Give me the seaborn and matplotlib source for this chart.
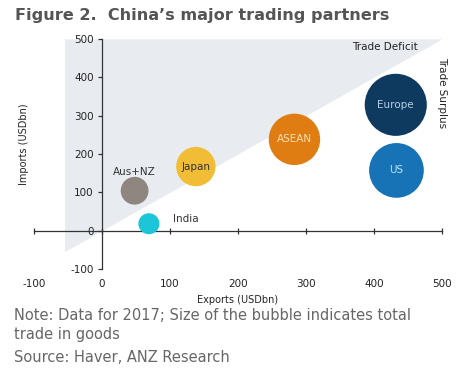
import matplotlib.pyplot as plt
import seaborn as sns
import pandas as pd

# China's major trading partners, 2017 (USDbn)
partners = ["Europe", "US", "ASEAN", "Japan", "Aus+NZ", "India"]
exports = [432, 433, 283, 138, 48, 69]
imports = [328, 157, 238, 167, 104, 18]
total_trade = [760, 590, 521, 305, 152, 87]

colors = ["#0f3a5f", "#1873b6", "#e07d12", "#f1bd36", "#8f8680", "#1cc5d7"]
label_colors = ["#b5d0e6", "#b9e6f2", "#f7e0b5", "#333333"]

# trade-deficit zone: above the imports = exports line
deficit_x = [-55, 500]
ticks = list(range(-100, 501, 100))

df = pd.DataFrame({"partner": partners, "exports": exports,
                   "imports": imports, "total": total_trade})

sns.set_theme(style="white")
plt.rcParams["font.family"] = ["DejaVu Sans"]
plt.rcParams["axes.unicode_minus"] = False

fig = plt.figure(figsize=(4.59, 3.70), dpi=100)
ax = fig.add_axes([0.074, 0.273, 0.889, 0.622])

ax.fill_between(deficit_x, deficit_x, 500, color="#e8ecf0", lw=0, zorder=0)

sns.scatterplot(data=df, x="exports", y="imports", hue="partner", palette=colors,
                size="total", sizes=(0, 2000), size_norm=(0, max(total_trade)),
                alpha=1, edgecolor="none", legend=False, ax=ax, zorder=3)

# labels inside the big bubbles
for name, ex, im, c in zip(partners[:4], exports[:4], imports[:4], label_colors):
    ax.text(ex, im, name, ha="center", va="center", fontsize=7.5, color=c, zorder=4)
ax.text(48, 154, "Aus+NZ", ha="center", va="center", fontsize=7.5, color="#333333")
ax.text(104, 30, "India", ha="left", va="center", fontsize=7.5, color="#333333")

ax.text(416, 480, "Trade Deficit", ha="center", va="center", fontsize=7.5, color="#222222")
ax.text(500, 360, "Trade Surplus", ha="center", va="center", fontsize=7.5, color="#222222",
        rotation=-90, clip_on=False)

ax.set_xlim(-100, 500)
ax.set_ylim(-100, 500)
ax.set_xticks(ticks)
ax.set_yticks(ticks)
for side in ["top", "right"]:
    ax.spines[side].set_visible(False)
for side in ["left", "bottom"]:
    ax.spines[side].set_position(("data", 0))
    ax.spines[side].set_color("#333333")
    ax.spines[side].set_linewidth(0.9)
ax.tick_params(axis="x", direction="inout", length=4, width=0.9, color="#333333",
               labelsize=7.5, labelcolor="#222222", pad=33, bottom=True)
ax.tick_params(axis="y", direction="out", length=3, width=0.9, color="#333333",
               labelsize=7.5, labelcolor="#222222", pad=3, left=True)

ax.set_xlabel("Exports (USDbn)", fontsize=7, color="#222222", labelpad=4)
ax.set_ylabel("Imports (USDbn)", fontsize=7, color="#222222")
ax.yaxis.set_label_coords(-0.012, 0.543)

fig.text(0.033, 0.957, "Figure 2.  China\u2019s major trading partners", fontsize=11.6,
         fontweight="bold", color="#555555", va="center")
fig.text(0.03, 0.122, "Note: Data for 2017; Size of the bubble indicates total\ntrade in goods",
         fontsize=10.5, color="#666666", va="center", linespacing=1.28)
fig.text(0.03, 0.035, "Source: Haver, ANZ Research", fontsize=10.5, color="#666666", va="center")

fig.savefig("out.png", dpi=100)
